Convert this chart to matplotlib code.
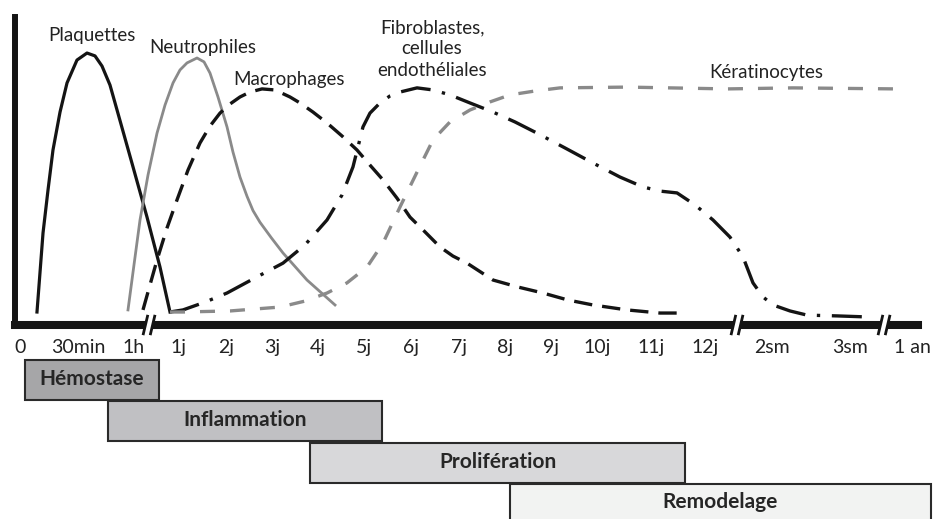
import matplotlib
matplotlib.use("Agg")
import matplotlib.pyplot as plt
from matplotlib.patches import Rectangle

plt.rcParams['font.family'] = ['Lato', 'DejaVu Sans']

# ── Data ────────────────────────────────────────────────────────────────
# x in "day" units of the drawn axis (1j = 1, 12j = 12), y in relative level 0-100
tick_labels = ["0", "30min", "1h", "1j", "2j", "3j", "4j", "5j", "6j", "7j",
               "8j", "9j", "10j", "11j", "12j", "2sm", "3sm", "1 an"]
tick_pos = [-2.30, -1.09, 0.08, 1.0, 2.0, 2.96, 3.92, 4.88, 5.86, 6.87,
            7.83, 8.79, 9.75, 10.87, 12.0, 13.40, 15.03, 16.34]
axis_breaks = [0.395, 12.67, 15.74]

plaq_x = [-1.944, -1.818, -1.714, -1.610, -1.463, -1.317, -1.109, -0.900, -0.733,
          -0.587, -0.420, -0.273, 0.061, 0.353, 0.624, 0.833]
plaq_y = [0, 30.4, 46.9, 62.3, 76.9, 88.1, 96.9, 99.6, 98.5,
          94.6, 87.3, 77.7, 55.8, 36.5, 17.3, 0]

neut_x = [-0.044, 0.081, 0.207, 0.374, 0.562, 0.729, 0.896, 1.042, 1.188, 1.397,
          1.543, 1.668, 1.835, 2.023, 2.148, 2.294, 2.441, 2.566, 2.712, 2.950,
          3.192, 3.693, 4.278]
neut_y = [0.8, 18.1, 35.4, 52.7, 68.8, 79.6, 88.1, 93.1, 95.8, 97.7,
          96.2, 91.9, 82.7, 71.2, 61.5, 51.9, 44.5, 39.0, 34.5, 28.5,
          22.7, 12.3, 2.7]

macro_x = [0.269, 0.415, 0.562, 0.770, 0.979, 1.209, 1.459, 1.668, 1.877, 2.086,
           2.294, 2.503, 2.754, 3.025, 3.338, 3.547, 3.818, 4.111, 4.424, 4.737,
           5.008, 5.280, 5.572, 5.843, 6.157, 6.470, 6.741, 7.033, 7.576, 8.098,
           8.620, 9.142, 9.664, 10.374, 11.063, 11.418]
macro_y = [0.8, 10.4, 20.0, 32.3, 43.1, 54.6, 65.0, 71.5, 76.5, 80.0,
           82.7, 84.6, 85.8, 85.4, 82.7, 80.4, 76.9, 72.7, 67.7, 62.3,
           56.5, 50.8, 43.8, 36.5, 30.8, 25.0, 21.5, 18.8, 12.3, 9.6,
           7.3, 4.6, 2.7, 0.8, -0.4, -0.4]

fibro_x = [0.833, 1.104, 1.564, 2.023, 2.608, 3.192, 3.651, 4.111, 4.424, 4.653,
           4.862, 5.008, 5.217, 5.426, 5.635, 5.990, 6.324, 6.678, 7.096, 7.576,
           8.035, 8.495, 9.079, 9.664, 10.228, 10.708, 11.063, 11.418, 11.793, 12.169,
           12.524, 12.795, 13.004, 13.213, 13.422, 13.777, 14.132, 14.758, 15.384]
fibro_y = [0, 0.8, 3.8, 7.3, 13.1, 18.8, 25.8, 35.4, 45.0, 55.8,
           71.2, 76.5, 80.4, 83.1, 84.6, 86.2, 85.4, 83.5, 80.4, 76.9,
           73.1, 68.8, 63.1, 57.3, 51.9, 48.1, 46.5, 45.8, 41.2, 35.4,
           28.8, 21.2, 11.2, 5.8, 2.7, 0.4, -1.2, -1.5, -1.9]

kera_x = [0.833, 1.104, 2.086, 3.129, 3.651, 4.111, 4.528, 4.946, 5.280, 5.635,
          5.990, 6.324, 6.678, 7.096, 7.514, 7.931, 8.453, 8.975, 10.374, 12.461,
          13.839, 16.010]
kera_y = [0, 0, 0.4, 1.9, 4.2, 7.3, 11.2, 17.3, 26.5, 40.4,
          53.8, 66.2, 73.1, 77.7, 80.8, 83.5, 85.0, 86.2, 86.5, 85.8,
          86.2, 85.8]

phase_names = ["Hémostase", "Inflammation", "Prolifération", "Remodelage"]
phase_start = [-2.194, -0.461, 3.756, 7.931]
phase_end = [0.603, 5.259, 11.585, 16.72]

# ── Figure ──────────────────────────────────────────────────────────────
fig = plt.figure(figsize=(9.34, 5.19), dpi=100)
ax = fig.add_axes([15 / 934, 194 / 519, 903 / 934, 308 / 519])
ax.set_xlim(-2.403, 16.449)
ax.set_ylim(-5, 113.46)

black = "#141414"
grey = "#8a8a8a"
ax.plot(plaq_x, plaq_y, color=black, lw=2.3, solid_joinstyle="round")
ax.plot(neut_x, neut_y, color=grey, lw=2.0, solid_joinstyle="round")
ax.plot(macro_x, macro_y, color=black, lw=2.4, dashes=(5.5, 3))
ax.plot(fibro_x, fibro_y, color=black, lw=2.4, dashes=(9, 3.5, 1, 3.5))
ax.plot(kera_x, kera_y, color=grey, lw=2.4, dashes=(4.5, 4.5))

# curve labels
lab_kw = dict(fontsize=13.5, color="#222222", ha="center", va="center")
ax.text(-0.795, 106.5, "Plaquettes", **lab_kw)
ax.text(1.522, 101.9, "Neutrophiles", **lab_kw)
ax.text(3.317, 89.6, "Macrophages", **lab_kw)
ax.text(6.303, 101.2, "Fibroblastes,\ncellules\nendothéliales", linespacing=1.3, **lab_kw)
ax.text(13.276, 92.3, "Kératinocytes", **lab_kw)

# axes look
for s in ["top", "right"]:
    ax.spines[s].set_visible(False)
ax.spines["left"].set_linewidth(4.3)
ax.spines["bottom"].set_linewidth(5.8)
ax.spines["left"].set_color(black)
ax.spines["bottom"].set_color(black)
ax.set_yticks([])
ax.set_xticks(tick_pos, tick_labels)
ax.tick_params(axis="x", length=0, pad=10, labelsize=14, labelcolor="#222222")

# axis breaks //
for b in axis_breaks:
    ax.plot([b - 0.05, b + 0.05], [-8.9, -1.1], color="white", lw=4.5,
            clip_on=False, zorder=5, solid_capstyle="butt")
    for off in (-0.075, 0.075):
        ax.plot([b + off - 0.05, b + off + 0.05], [-8.9, -1.1], color=black, lw=2,
                clip_on=False, zorder=6, solid_capstyle="butt")

# phase boxes
box_fill = ["#a6a6a8", "#c0c0c3", "#d8d8da", "#f2f3f2"]
row_top = [-18.5, -34.3, -50.3, -66.2]
row_h = 15.3
for name, x0, x1, top, fc in zip(phase_names, phase_start, phase_end, row_top, box_fill):
    ax.add_patch(Rectangle((x0, top - row_h), x1 - x0, row_h, facecolor=fc,
                           edgecolor="#2a2a2a", lw=1.5, clip_on=False))
    ax.text((x0 + x1) / 2, top - 7.3 if top > -60 else top - 7.0, name,
            fontsize=15, fontweight="bold", color="#262626",
            ha="center", va="center", clip_on=False)

fig.savefig("out.png", dpi=100)
